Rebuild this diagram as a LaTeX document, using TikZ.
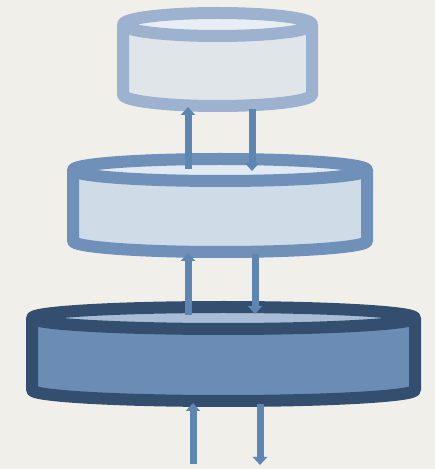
\documentclass[tikz,border=0pt]{standalone}
\usetikzlibrary{arrows.meta}
\definecolor{paper}{HTML}{F1EFEA}
\definecolor{topline}{HTML}{9CB2CF}
\definecolor{topbody}{HTML}{E0E5EA}
\definecolor{topend}{HTML}{E9EEF4}
\definecolor{midline}{HTML}{6E90B9}
\definecolor{midbody}{HTML}{CFDBE7}
\definecolor{midend}{HTML}{E1E9F2}
\definecolor{botline}{HTML}{334E6E}
\definecolor{botbody}{HTML}{6B8DB5}
\definecolor{botend}{HTML}{A8BCD6}
\definecolor{arrowblue}{HTML}{5E86B3}
\begin{document}
\begin{tikzpicture}[x=1pt,y=1pt,
 rim/.style={line width=12pt,line join=round},
 link/.style={-{Triangle[width=14pt,length=8pt]},line width=7pt,draw=arrowblue}]
\useasboundingbox[fill=paper] (0,0) rectangle (435,469);
% tier centres (top ellipse / bottom ellipse)
\coordinate (top-t) at (217.5,444.5);
\coordinate (top-b) at (217.5,374.5);
\coordinate (mid-t) at (220,299);
\coordinate (mid-b) at (220,228);
\coordinate (bot-t) at (223.5,151);
\coordinate (bot-b) at (223.5,79);
% top tier
\fill[topbody] ([xshift=-94.5pt]top-t) -- ([xshift=-94.5pt]top-b) arc[start angle=180,end angle=360,x radius=94.5,y radius=11.5] -- ([xshift=94.5pt]top-t) -- cycle;
\draw[rim,draw=topline,fill=topend] (top-t) ellipse[x radius=94.5,y radius=11.5];
\draw[rim,draw=topline] ([xshift=-94.5pt]top-t) -- ([xshift=-94.5pt]top-b) arc[start angle=180,end angle=360,x radius=94.5,y radius=11.5] -- ([xshift=94.5pt]top-t);
% middle tier
\fill[midbody] ([xshift=-147pt]mid-t) -- ([xshift=-147pt]mid-b) arc[start angle=180,end angle=360,x radius=147,y radius=11] -- ([xshift=147pt]mid-t) -- cycle;
\draw[rim,draw=midline,fill=midend] (mid-t) ellipse[x radius=147,y radius=11];
\draw[rim,draw=midline] ([xshift=-147pt]mid-t) -- ([xshift=-147pt]mid-b) arc[start angle=180,end angle=360,x radius=147,y radius=11] -- ([xshift=147pt]mid-t);
% bottom tier
\fill[botbody] ([xshift=-191.5pt]bot-t) -- ([xshift=-191.5pt]bot-b) arc[start angle=180,end angle=360,x radius=191.5,y radius=11] -- ([xshift=191.5pt]bot-t) -- cycle;
\draw[rim,draw=botline,fill=botend] (bot-t) ellipse[x radius=191.5,y radius=11];
\draw[rim,draw=botline] ([xshift=-191.5pt]bot-t) -- ([xshift=-191.5pt]bot-b) arc[start angle=180,end angle=360,x radius=191.5,y radius=11] -- ([xshift=191.5pt]bot-t);
% arrows
\draw[link] ([xshift=-32pt,yshift=1pt]mid-t) -- ([xshift=-29.5pt,yshift=-12.5pt]top-b);
\draw[link] ([xshift=34.5pt,yshift=-14.5pt]top-b) -- ([xshift=32pt,yshift=-1pt]mid-t);
\draw[link] ([xshift=-35.5pt,yshift=3pt]bot-t) -- ([xshift=-32pt,yshift=-12pt]mid-b);
\draw[link] ([xshift=35pt,yshift=-13pt]mid-b) -- ([xshift=31.5pt,yshift=4pt]bot-t);
\coordinate (in) at (193,5);
\coordinate (out) at (260,4);
\draw[link] (in) -- ([xshift=-30.5pt,yshift=-13pt]bot-b);
\draw[link] ([xshift=36.5pt,yshift=-14pt]bot-b) -- (out);
\end{tikzpicture}
\end{document}
